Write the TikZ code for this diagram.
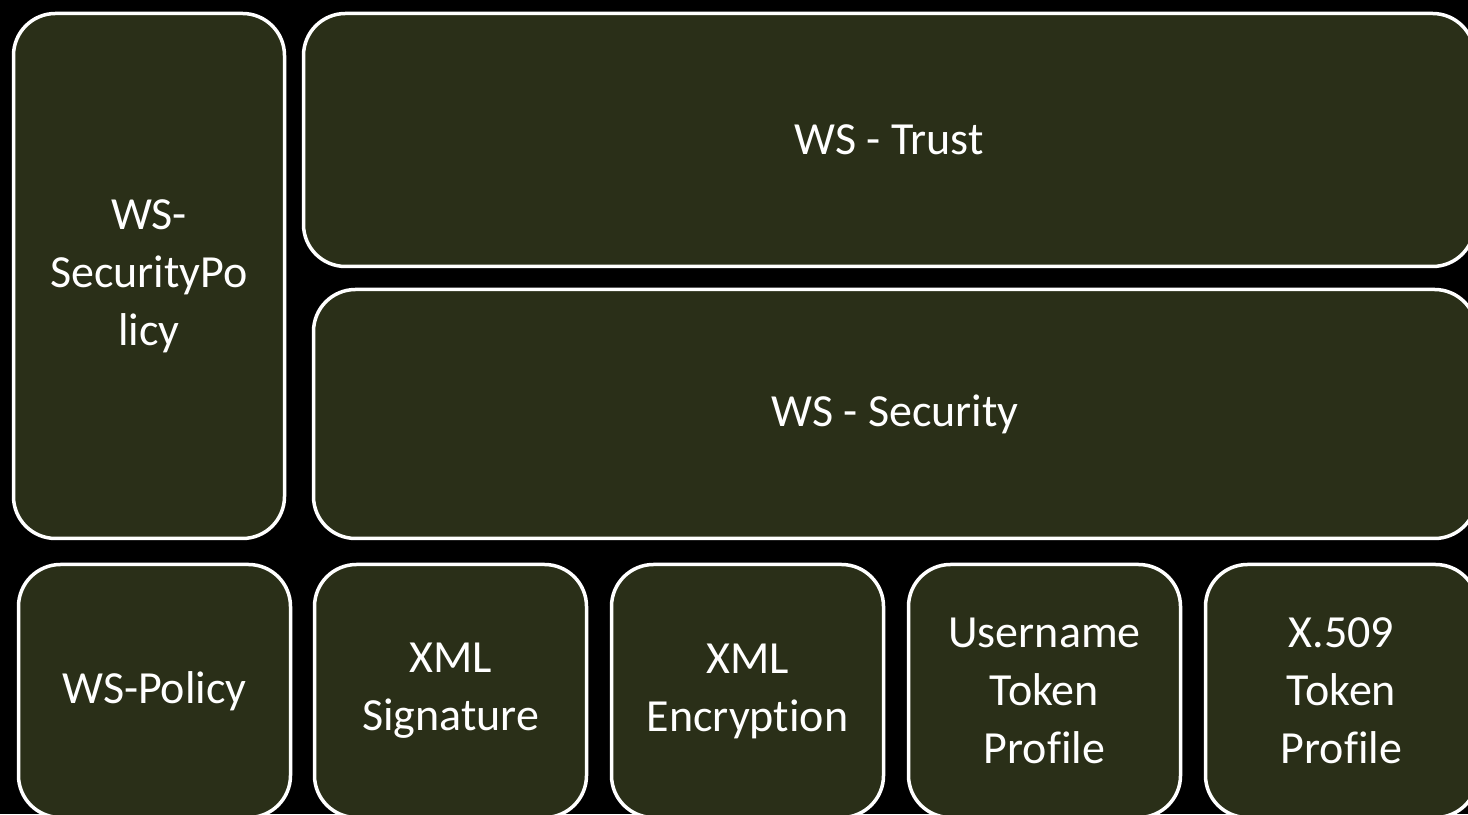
\documentclass[tikz,border=0pt]{standalone}
\usepackage{fontspec}
\setmainfont{Carlito}[Ligatures=NoCommon]
\usetikzlibrary{positioning}

\definecolor{boxfill}{HTML}{2A2F18}

\tikzset{
  specbox/.style={draw=white,line width=3.5bp,fill=boxfill,rounded corners=42bp,
    text=white,align=center,inner sep=0pt,
    font=\fontsize{46bp}{58bp}\selectfont},
}

\begin{document}
\begin{tikzpicture}[x=1bp,y=1bp]
%%
\fill[black] (0,0) rectangle (1468,814);
\useasboundingbox (0,0) rectangle (1468,814);
\clip (0,0) rectangle (1468,814);
%
\node (node_secpolicy) at (149bp,538bp) [specbox,minimum width=271bp,minimum height=525bp] {WS-\\SecurityPo\\licy};
  \node (node_trust) at (889bp,674bp) [specbox,minimum width=1171bp,minimum height=253bp] {WS - Trust};
  \node (node_security) at (895bp,400bp) [specbox,minimum width=1163bp,minimum height=249bp] {WS - Security};
  \node (node_policy) at (154.5bp,123bp) [specbox,minimum width=272bp,minimum height=253bp] {WS-Policy};
  \node (node_xmlsig) at (450.5bp,123bp) [specbox,minimum width=272bp,minimum height=253bp] {XML\\Signature};
  \node (node_xmlenc) at (747.5bp,123bp) [specbox,minimum width=272bp,minimum height=253bp] {XML\\Encryption};
  \node (node_username) at (1044.5bp,123bp) [specbox,minimum width=272bp,minimum height=253bp] {Username\\Token\\Profile};
  \node (node_x509) at (1341.5bp,123bp) [specbox,minimum width=272bp,minimum height=253bp] {X.509\\Token\\Profile};
%
\end{tikzpicture}
\end{document}
